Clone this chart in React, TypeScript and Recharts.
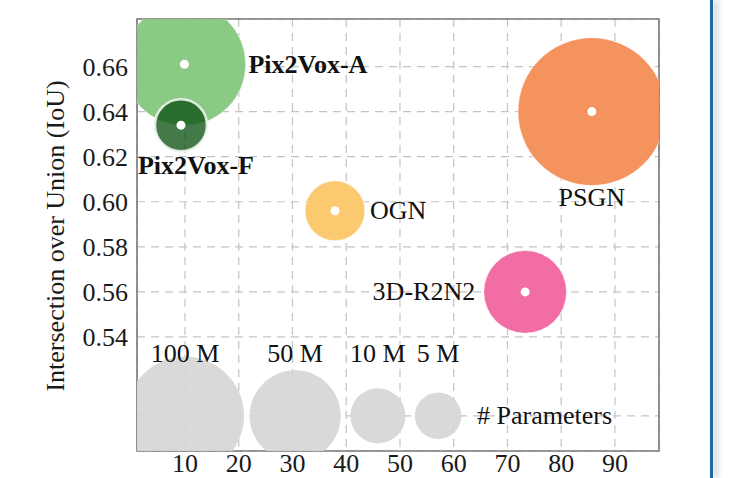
import { ScatterChart, Scatter, XAxis, YAxis, CartesianGrid, ReferenceArea, Label } from "recharts";

// models: x = inference time, y = IoU, params in millions
const models = ["Pix2Vox-A", "Pix2Vox-F", "OGN", "PSGN", "3D-R2N2"];
const inferenceTime = [9.9, 9.25, 37.9, 85.7, 73.3];
const iou = [0.661, 0.634, 0.596, 0.64, 0.56];
const paramsM = [110, 8, 13.5, 175, 38];

// size legend bubbles drawn inside the plot
const legendLabels = ["100 M", "50 M", "10 M", "5 M"];
const legendParams = [100, 50, 10, 5];
const legendX = [10, 30.5, 45.9, 57.1];
const legendY = 0.505;

const xTicks = [10, 20, 30, 40, 50, 60, 70, 80, 90];
const yTicks = [legendY, 0.54, 0.56, 0.58, 0.6, 0.62, 0.64, 0.66];
const xDomain = [1.07, 98.2];
const yDomain = [0.4894, 0.6811];

const colors: Record<string, string> = {
  "Pix2Vox-A": "#86c87f",
  "Pix2Vox-F": "#0f5516",
  OGN: "#fbc86a",
  PSGN: "#f58f57",
  "3D-R2N2": "#f0679f",
};

// label placement relative to bubble centre
const labelPos: Record<string, { dx: number; dy: number; anchor: string; bold?: boolean }> = {
  "Pix2Vox-A": { dx: 64, dy: 0, anchor: "start", bold: true },
  "Pix2Vox-F": { dx: 15, dy: 40, anchor: "middle", bold: true },
  OGN: { dx: 35, dy: 0, anchor: "start" },
  PSGN: { dx: 0, dy: 86, anchor: "middle" },
  "3D-R2N2": { dx: -50, dy: 0, anchor: "end" },
};

const FONT = "'Liberation Serif', 'DejaVu Serif', serif";

const radius = (p: number) => 13 + 4.6 * Math.sqrt(p);

const modelData = models.map((name, i) => ({
  name,
  x: inferenceTime[i],
  y: iou[i],
  params: paramsM[i],
}));

const legendData = legendLabels.map((name, i) => ({
  name,
  x: legendX[i],
  y: legendY,
  params: legendParams[i],
  last: i === legendLabels.length - 1,
}));

function ModelBubble(props: any) {
  const { cx, cy, payload } = props;
  const r = radius(payload.params);
  const pos = labelPos[payload.name];
  const isF = payload.name === "Pix2Vox-F";
  return (
    <g>
      <circle
        cx={cx}
        cy={cy}
        r={r}
        fill={colors[payload.name]}
        fillOpacity={isF ? 0.78 : 0.96}
        stroke={isF ? "#eef3ee" : "#ffffff"}
        strokeOpacity={isF ? 0.9 : 0.5}
        strokeWidth={isF ? 2.5 : 1}
      />
      <circle cx={cx} cy={cy} r={4.5} fill="#fff" />
      <text
        x={cx + pos.dx}
        y={cy + pos.dy}
        textAnchor={pos.anchor as any}
        dominantBaseline="central"
        fontFamily={FONT}
        fontSize={26}
        fontWeight={pos.bold ? "bold" : "normal"}
        fill="#111"
      >
        {payload.name}
      </text>
    </g>
  );
}

function LegendBubble(props: any) {
  const { cx, cy, payload } = props;
  const r = radius(payload.params);
  return (
    <g>
      <circle cx={cx} cy={cy} r={r} fill="#d6d6d6" fillOpacity={0.92} />
      <text x={cx} y={cy - 62.5} textAnchor="middle" dominantBaseline="central" fontFamily={FONT} fontSize={26} fill="#111">
        {payload.name}
      </text>
      {payload.last && (
        <text x={cx + 39} y={cy} textAnchor="start" dominantBaseline="central" fontFamily={FONT} fontSize={26} fill="#111">
          # Parameters
        </text>
      )}
    </g>
  );
}

export default function App() {
  return (
    <div style={{ position: "absolute", left: 0, top: 0, width: 743, height: 478, background: "#fff", overflow: "hidden" }}>
      <ScatterChart width={743} height={478} margin={{ top: 19, right: 84, bottom: 0, left: 0 }}>
        <CartesianGrid stroke="#c4c4c4" strokeDasharray="8 6" strokeWidth={1.2} />
        <XAxis
          type="number"
          dataKey="x"
          domain={xDomain}
          ticks={xTicks}
          allowDataOverflow
          height={27}
          tickLine={false}
          tickSize={3}
          tickMargin={0}
          axisLine={false}
          tick={{ fontFamily: FONT, fontSize: 26, fill: "#1a1a1a" }}
        />
        <YAxis
          type="number"
          dataKey="y"
          domain={yDomain}
          ticks={yTicks}
          allowDataOverflow
          width={137}
          tickLine={false}
          tickSize={7}
          tickMargin={2}
          axisLine={false}
          tickFormatter={(v: number) => (v === legendY ? "" : v.toFixed(2))}
          tick={{ fontFamily: FONT, fontSize: 26, fill: "#1a1a1a" }}
        >
          <Label
            content={(p: any) => {
              const vb = p.viewBox || { y: 19, height: 432 };
              const cy = vb.y + vb.height / 2 + 1;
              return (
                <text
                  x={55}
                  y={cy}
                  transform={`rotate(-90, 55, ${cy})`}
                  textAnchor="middle"
                  dominantBaseline="central"
                  fontFamily={FONT}
                  fontSize={26}
                  fill="#1a1a1a"
                >
                  Intersection over Union (IoU)
                </text>
              );
            }}
          />
        </YAxis>
        <Scatter data={legendData} shape={LegendBubble} isAnimationActive={false} />
        <Scatter data={modelData} shape={ModelBubble} isAnimationActive={false} />
        <ReferenceArea
          x1={xDomain[0]}
          x2={xDomain[1]}
          y1={yDomain[0]}
          y2={yDomain[1]}
          fill="none"
          stroke="#7a7a7a"
          strokeWidth={1.6}
          ifOverflow="extendDomain"
        />
      </ScatterChart>
      <div
        style={{
          position: "absolute",
          left: 710,
          top: 0,
          width: 3,
          height: 478,
          background: "#1c69a6",
          boxShadow: "4px 0 6px rgba(0,0,0,0.3)",
        }}
      />
    </div>
  );
}
